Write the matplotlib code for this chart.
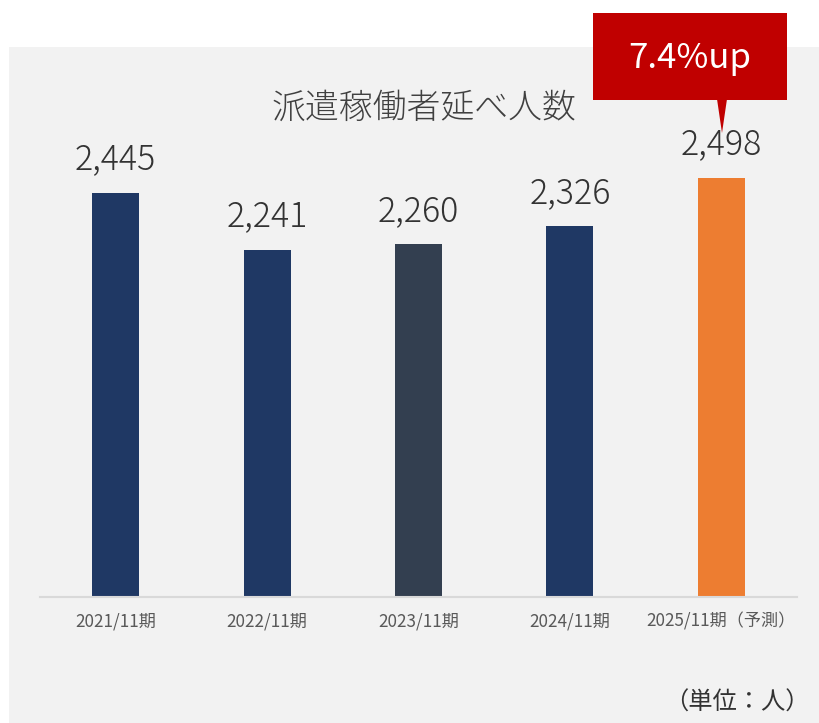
import matplotlib
matplotlib.use("Agg")
import matplotlib.pyplot as plt
from matplotlib.patches import Rectangle, Polygon

plt.rcParams['font.family'] = ['Noto Sans CJK JP', 'DejaVu Sans']

# data
periods = ["2021/11期", "2022/11期", "2023/11期", "2024/11期", "2025/11期（予測）"]
workers = [2445, 2241, 2260, 2326, 2498]
bar_colors = ["#1F3864", "#1F3864", "#333F50", "#1F3864", "#ED7D31"]
title = "派遣稼働者延べ人数"
growth_note = "7.4%up"
unit_note = "（単位：人）"

W, H = 820, 723
fig = plt.figure(figsize=(W / 100, H / 100), dpi=100)
fig.patch.set_facecolor("white")


def fx(px):
    return px / W


def fy(py):
    return 1 - py / H


# grey background panel
fig.patches.append(Rectangle((fx(9), 0), 1 - fx(9), fy(47), transform=fig.transFigure,
                             facecolor="#F2F2F2", edgecolor="none", zorder=0))

ax = fig.add_axes([fx(40), fy(597), fx(797) - fx(40), fy(40) - fy(597)])
ax.set_zorder(1)
ax.set_facecolor("none")
ax.bar(range(len(periods)), workers, width=0.31, color=bar_colors, zorder=2)
ax.set_xlim(-0.5, len(periods) - 0.5)
ax.set_ylim(1000, 2990)
ax.set_yticks([])
ax.set_xticks(range(len(periods)))
ax.set_xticklabels(periods, fontsize=12.3, color="#595959")
ax.tick_params(axis="x", length=0, pad=11)
for s in ["top", "right", "left"]:
    ax.spines[s].set_visible(False)
ax.spines["bottom"].set_color("#D9D9D9")
ax.spines["bottom"].set_linewidth(1.5)

for i, v in enumerate(workers):
    ax.annotate(f"{v:,}", (i, v), xytext=(0, 11), textcoords="offset points",
                ha="center", va="bottom", fontsize=24.5, color="#333333",
                fontweight="light")

fig.text(fx(424), fy(108), title, ha="center", va="center", fontsize=24.4,
         color="#404040", fontweight="light")

# callout
fig.patches.append(Rectangle((fx(593), fy(100)), fx(787) - fx(593), fy(13) - fy(100),
                             transform=fig.transFigure, facecolor="#C00000",
                             edgecolor="none", zorder=3))
fig.patches.append(Polygon([(fx(717), fy(99)), (fx(727), fy(99)), (fx(722), fy(133))],
                           closed=True, transform=fig.transFigure,
                           facecolor="#C00000", edgecolor="none", zorder=3))
fig.text(fx(690), fy(58), growth_note, ha="center", va="center", fontsize=25,
         color="white", zorder=4)

fig.text(fx(810), fy(703), unit_note, ha="right", va="center", fontsize=17.5,
         color="#333333")

fig.savefig("out.png", dpi=100)
